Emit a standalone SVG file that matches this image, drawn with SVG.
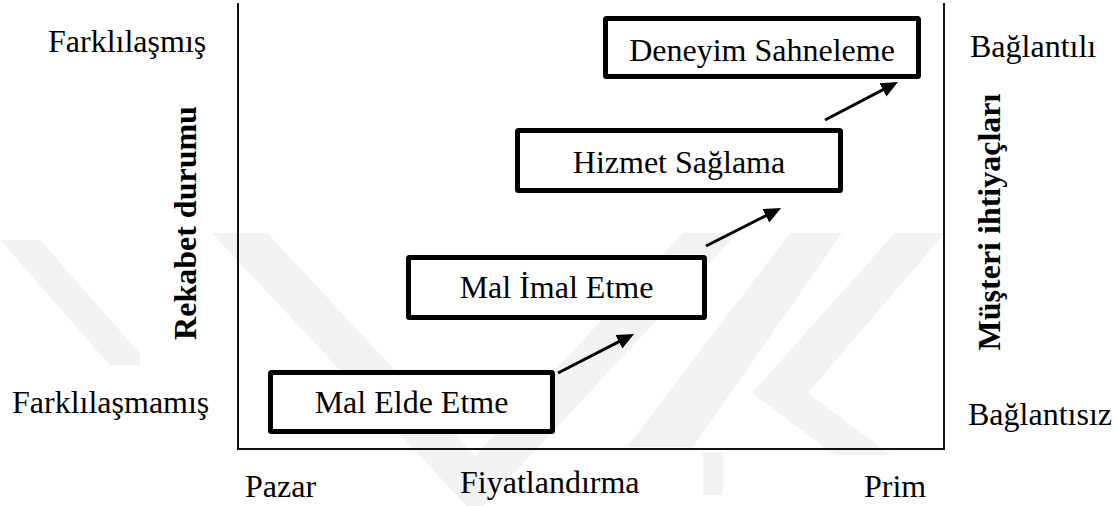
<svg xmlns="http://www.w3.org/2000/svg" width="1118" height="506" viewBox="0 0 1118 506">
  <style>
    .lbl { font-family: "Liberation Serif", "Times New Roman", serif; font-size: 32px; fill: #000; }
    .axis-title { font-family: "Liberation Serif", "Times New Roman", serif; font-size: 32px; font-weight: bold; fill: #000; }
    .box { fill: #fff; stroke: #000; stroke-width: 5; }
    .conn { stroke: #000; stroke-width: 3; fill: none; marker-end: url(#head); }
    .wm { fill: #f2f2f2; }
  </style>
  <defs>
    <marker id="head" markerUnits="userSpaceOnUse" markerWidth="18" markerHeight="16" refX="10" refY="7.5" orient="auto">
      <path d="M0,0 L17,7.5 L0,15 z" fill="#000"/>
    </marker>
  </defs>

  <rect width="1118" height="506" fill="#fff"/>

  <!-- faint background logo -->
  <g id="watermark">
    <polygon class="wm" points="212,233 267,233 475,456 683,233 738,233 475,515"/>
    <polygon class="wm" points="790,233 842,233 693,447 627,447"/>
    <polygon class="wm" points="895,233 945,233 808,393 890,455 835,455 752,393"/>
    <rect class="wm" x="703" y="453" width="20" height="42"/>
    <polygon class="wm" points="0,240 40,240 150,365 110,365"/>
    <rect x="140" y="240" width="73" height="125" fill="#fff"/>
  </g>

  <!-- frame: left, bottom and right axes -->
  <g id="frame">
    <path d="M238,3 V449 H944 V3" fill="none" stroke="#111" stroke-width="2"/>
  </g>

  <!-- axis labels -->
  <g id="labels">
    <text class="lbl" x="48" y="52">Farklılaşmış</text>
    <text class="lbl" x="12" y="413">Farklılaşmamış</text>
    <text class="lbl" x="970" y="57">Bağlantılı</text>
    <text class="lbl" x="968" y="425">Bağlantısız</text>
    <text class="lbl" x="245" y="497">Pazar</text>
    <text class="lbl" x="460" y="493">Fiyatlandırma</text>
    <text class="lbl" x="864" y="497">Prim</text>
    <text class="axis-title" text-anchor="middle" transform="translate(196,223) rotate(-90)">Rekabet durumu</text>
    <text class="axis-title" text-anchor="middle" transform="translate(1000,222) rotate(-90)">Müşteri ihtiyaçları</text>
  </g>

  <!-- stages -->
  <g id="node-deneyim">
    <rect class="box" x="605.5" y="18.5" width="313" height="58" rx="1"/>
    <text class="lbl" x="762" y="61" text-anchor="middle">Deneyim Sahneleme</text>
  </g>
  <g id="node-hizmet">
    <rect class="box" x="517.5" y="130.5" width="323" height="60" rx="1"/>
    <text class="lbl" x="679" y="173" text-anchor="middle">Hizmet Sağlama</text>
  </g>
  <g id="node-imal">
    <rect class="box" x="408.5" y="257.5" width="296" height="60" rx="1"/>
    <text class="lbl" x="556.5" y="298" text-anchor="middle">Mal İmal Etme</text>
  </g>
  <g id="node-elde">
    <rect class="box" x="270.5" y="372.5" width="282" height="59" rx="1"/>
    <text class="lbl" x="411.5" y="413" text-anchor="middle">Mal Elde Etme</text>
  </g>

  <!-- progression arrows -->
  <g id="connectors">
    <line class="conn" x1="558" y1="373" x2="627.8" y2="337.2"/>
    <line class="conn" x1="706" y1="246" x2="774.8" y2="211.2"/>
    <line class="conn" x1="825" y1="120" x2="891.8" y2="85.2"/>
  </g>
</svg>
